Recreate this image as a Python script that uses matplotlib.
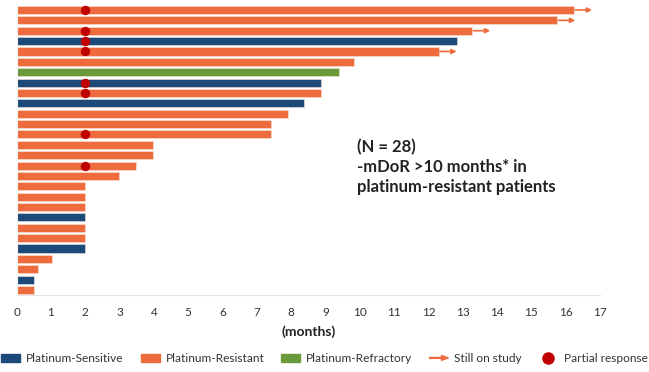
import matplotlib
matplotlib.use("Agg")
import matplotlib.pyplot as plt
import matplotlib.patches as mpatches
from matplotlib.lines import Line2D
from matplotlib.legend_handler import HandlerPatch

plt.rcParams['font.family'] = ['Lato', 'DejaVu Sans']

# one row per patient, top to bottom
duration = [16.25, 15.76, 13.28, 12.82, 12.30, 9.84, 9.40, 8.87, 8.87, 8.38,
            7.92, 7.41, 7.41, 3.98, 3.98, 3.48, 2.99, 2.0, 2.0, 2.0,
            2.0, 2.0, 2.0, 2.0, 1.04, 0.61, 0.51, 0.51]
status = ['R', 'R', 'R', 'S', 'R', 'R', 'F', 'S', 'R', 'S',
          'R', 'R', 'R', 'R', 'R', 'R', 'R', 'R', 'R', 'R',
          'S', 'R', 'R', 'S', 'R', 'R', 'S', 'R']
ongoing = [1, 1, 1, 0, 1, 0, 0, 0, 0, 0, 0, 0, 0, 0, 0, 0, 0, 0, 0, 0,
           0, 0, 0, 0, 0, 0, 0, 0]
pr_rows = [0, 2, 3, 4, 7, 8, 12, 15]
pr_month = 2.0
month_ticks = list(range(0, 18))

colors = {'S': '#1b4a7a', 'R': '#ee6b3d', 'F': '#6a9a3a'}
orange = colors['R']

fig = plt.figure(figsize=(6.49, 3.72), dpi=100)
ax = fig.add_axes([0.0257, 0.2078, 0.8988, 0.7849])

rows = list(range(len(duration)))
ax.barh(rows, duration, height=0.78, color=[colors[s] for s in status],
        edgecolor='#fbe3d8', linewidth=0.4)

for i, (d, on) in enumerate(zip(duration, ongoing)):
    if on:
        ax.annotate('', xy=(d + 0.52, i), xytext=(d + 0.03, i),
                    arrowprops=dict(arrowstyle='-|>', color=orange, lw=1.2,
                                    mutation_scale=7, shrinkA=0, shrinkB=0))

ax.scatter([pr_month] * len(pr_rows), pr_rows, s=33, color='#c00000', zorder=3)

ax.set_xlim(0, 17)
ax.set_ylim(27.45, -0.7)
ax.set_yticks([])
ax.set_xticks(month_ticks)
ax.set_xticklabels([str(t) for t in month_ticks], fontsize=8.5, color='#333333')
ax.tick_params(axis='x', length=0, pad=9)
for side in ['top', 'right']:
    ax.spines[side].set_visible(False)
ax.spines['bottom'].set_color('#e6e6e6')
ax.spines['left'].set_color('#f0f0f0')
ax.set_xlabel('(months)', fontsize=10, fontweight='bold', color='#222222', labelpad=5)

fig.text(0.550, 0.551, '(N = 28)\n-mDoR >10 months* in\nplatinum-resistant patients',
         fontsize=12, fontweight='bold', color='#222222', va='center', ha='left',
         linespacing=1.3)


def make_arrow(legend, orig_handle, xdescent, ydescent, width, height, fontsize):
    return mpatches.FancyArrow(-xdescent, -ydescent + height / 2, width, 0,
                               width=0.6, head_width=3.5, head_length=5,
                               length_includes_head=True, color=orange)


handles = [mpatches.Patch(color=colors['S']),
           mpatches.Patch(color=colors['R']),
           mpatches.Patch(color=colors['F']),
           mpatches.FancyArrow(0, 0, 1, 0, color=orange),
           Line2D([], [], marker='o', ls='none', color='#c00000', markersize=8)]
labels = ['Platinum-Sensitive', 'Platinum-Resistant', 'Platinum-Refractory',
          'Still on study', 'Partial response']
fig.legend(handles, labels, loc='center', bbox_to_anchor=(0.5, 0.036), ncol=5,
           frameon=False, fontsize=8.6, handlelength=1.6, handletextpad=0.5,
           columnspacing=1.4, labelcolor='#333333',
           handler_map={mpatches.FancyArrow: HandlerPatch(patch_func=make_arrow)})

fig.savefig('out.png', dpi=100)
